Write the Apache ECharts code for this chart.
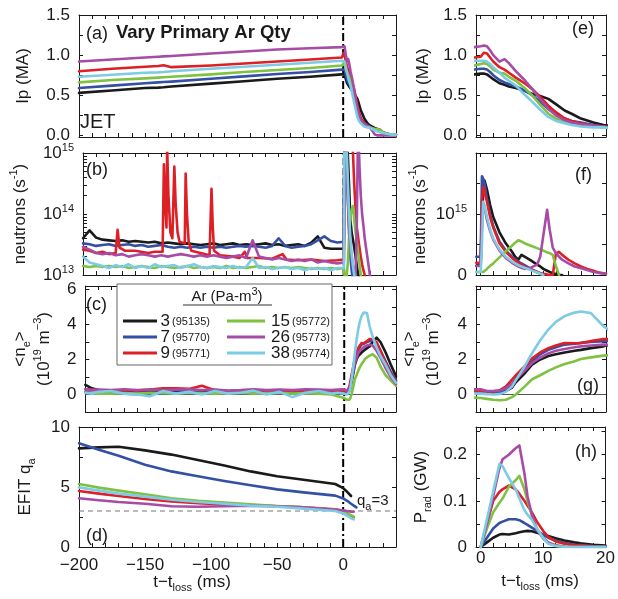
<!DOCTYPE html>
<html><head><meta charset="utf-8">
<script src="https://cdn.jsdelivr.net/npm/echarts@6/dist/echarts.min.js"></script>
<style>html,body{margin:0;padding:0;background:#fff}#c{width:618px;height:599px}</style>
</head><body><div id="c"></div>
<script>
// ---------- DATA ----------
const names = ['3', '7', '9', '15', '26', '38'];
const shots = ['(95135)', '(95770)', '(95771)', '(95772)', '(95773)', '(95774)'];
const colors = ['#1a1a1a', '#3350a5', '#dd1f26', '#7fc241', '#a64ca6', '#7dcbe4'];

// (a),(e) plasma current Ip (MA)
const ipT = [-200,-175,-150,-140,-136,-130,-100,-75,-50,-25,-1,0,0.5,1,1.5,2,3,3.8,4.5,5.6,7,8.2,9.5,10.8,12,13.4,14.5,16,18,19.6,22,24,26,28,30,33,36,40];
const ipBlack = [0.53,0.56,0.59,0.595,0.60,0.61,0.645,0.675,0.705,0.73,0.76,0.77,0.77,0.76,0.73,0.70,0.65,0.63,0.61,0.59,0.555,0.52,0.49,0.455,0.39,0.31,0.27,0.21,0.16,0.13,0.11,0.09,0.08,0.06,0.04,0.02,0.01,0.01];
const ipBlue = [0.59,0.62,0.65,0.66,0.665,0.67,0.705,0.735,0.765,0.79,0.82,0.83,0.83,0.82,0.79,0.75,0.69,0.66,0.64,0.61,0.56,0.50,0.42,0.33,0.27,0.21,0.18,0.16,0.13,0.11,0.09,0.07,0.06,0.05,0.03,0.02,0.01,0.01];
const ipRed = [0.80,0.83,0.855,0.865,0.875,0.85,0.87,0.895,0.92,0.945,0.97,0.98,1.03,1.02,0.97,0.92,0.85,0.82,0.78,0.72,0.65,0.58,0.48,0.37,0.29,0.21,0.18,0.15,0.12,0.11,0.09,0.08,0.075,0.07,0.04,0.02,0.01,0.01];
const ipGreen = [0.66,0.69,0.71,0.72,0.725,0.73,0.76,0.79,0.815,0.84,0.87,0.89,0.90,0.89,0.86,0.82,0.78,0.77,0.73,0.68,0.59,0.50,0.38,0.27,0.21,0.17,0.14,0.12,0.11,0.10,0.09,0.08,0.075,0.07,0.04,0.02,0.01,0.01];
const ipMagenta = [0.92,0.945,0.97,0.98,0.985,0.99,1.02,1.045,1.07,1.085,1.10,1.11,1.12,1.11,1.06,1.00,0.92,0.95,0.90,0.80,0.69,0.58,0.45,0.33,0.25,0.19,0.16,0.14,0.12,0.11,0.06,0.01,0,0,0,0,0,0];
const ipCyan = [0.73,0.755,0.78,0.785,0.79,0.80,0.83,0.855,0.88,0.905,0.93,0.93,0.93,0.92,0.89,0.85,0.78,0.72,0.68,0.62,0.51,0.42,0.32,0.23,0.18,0.15,0.13,0.11,0.10,0.10,0.08,0.06,0.05,0.04,0.03,0.02,0.01,0.01];

// (b) neutrons (units of 1e13 s^-1), log axis
const nbT = [-200,-195,-190,-185,-180,-175,-170,-165,-160,-155,-150,-145,-140,-135,-130,-125,-120,-115,-110,-105,-100,-95,-90,-85,-80,-75,-70,-65,-60,-55,-50,-45,-40,-35,-30,-25,-20,-15,-10,-5,0,
  0.5,1,2,3,4,5,6,7,8,9,10,10.5,11,12,13,14,15,16,17,18,19,20,22,25];
const nbBlack = [4.0,5.4,4.1,3.8,3.7,3.6,3.7,3.5,3.6,3.5,3.4,3.5,3.3,3.4,3.3,3.2,3.3,3.2,3.1,3.2,3.3,3.1,3.2,3.3,3.1,3.2,3.1,3.2,3.3,3.1,3.2,3.0,3.1,3.2,3.0,3.4,4.3,2.8,2.7,2.7,2.7,
  300,300,250,100,30,8,5,3.8,2.8,2.0,1.4,1.2,1.05,0.8,0.6,0.5,0.5,0.5,0.5,0.5,0.5,0.5,0.5,0.5];
const nbBlue = [3.3,3.2,3.0,3.1,3.2,3.0,3.1,3.2,3.0,3.1,2.9,3.0,3.1,2.9,2.8,2.9,2.8,2.9,2.8,2.9,2.8,2.9,2.8,2.9,3.0,2.9,3.0,2.9,2.8,3.0,4.0,3.0,2.8,2.9,3.0,3.2,3.7,4.3,3.6,3.4,3.5,
  300,300,100,20,5,2,1.2,0.8,0.5,0.5,0.5,0.5,0.5,0.5,0.5,0.5,0.5,0.5,0.5,0.5,0.5,0.5,0.5,0.5];
const nbGreen = [1.4,1.35,1.4,1.35,1.4,1.35,1.4,1.3,1.35,1.4,1.35,1.3,1.4,1.35,1.3,1.35,1.4,1.3,1.35,1.3,1.35,1.3,1.4,1.3,1.35,1.3,1.35,1.4,1.3,1.35,1.3,1.35,1.3,1.35,1.3,1.25,1.3,1.25,1.3,1.25,1.3,
  1.0,0.8,0.9,1.5,4,9,12,13.5,8,5,3.5,2.9,2.3,1.5,1.0,0.7,0.5,0.5,0.5,0.5,0.5,0.5,0.5,0.5];
const nbMagenta = [2.9,2.6,2.3,2.2,2.3,2.1,2.2,2.0,2.1,2.2,2.1,2.0,2.1,2.0,2.1,2.2,2.1,2.0,2.1,2.0,2.1,2.0,1.9,2.0,2.1,1.9,3.7,2.0,1.9,1.8,1.9,1.8,1.7,1.8,1.7,1.8,1.6,1.7,1.6,1.55,1.6,
  300,300,80,20,6,3,2,1.4,1.0,0.9,8,60,300,60,20,10,6.5,4,2.8,2,1.4,1.0,0.6,0.5];
const nbCyan = [2.0,1.6,1.5,1.4,1.3,1.45,1.35,1.5,1.3,1.4,1.3,1.5,1.35,1.4,1.45,1.3,1.4,1.5,1.35,1.3,1.4,1.35,1.3,1.4,1.3,1.35,1.9,1.3,1.35,1.25,1.3,1.35,1.25,1.3,1.2,1.3,1.25,1.3,1.2,1.3,1.3,
  300,300,150,40,10,4,2.2,1.4,1.0,0.7,0.5,0.5,0.5,0.5,0.5,0.5,0.5,0.5,0.5,0.5,0.5,0.5,0.5,0.5];
const nbRedT = [-200,-195,-190,-185,-180,-175,-173.5,-172,-168,-160,-150,-145,-139,-138,-137,-136,-135.5,-134.5,-133,-131.5,-130,-129,-127.5,-126,-122,-121.3,-120.3,-119,-117,-110,-103,-101.5,-100.5,-99.5,-95,-85,-80,-76,-74,-65,-55,-47,-44,-35,-25,-15,-5,0,
  0.5,1,2,3,4,5,6,7,8,9,10,11,12,13,14,15,16,17,18,20,25];
const nbRed = [2.6,2.5,2.3,2.4,2.2,2.3,5.5,2.8,2.5,2.5,2.3,2.4,2.4,65,15,6,120,20,5,4,60,15,5,3.5,3.3,46,10,3.5,2.5,2.3,2.1,26,6,2.5,2.1,2.0,1.9,2.4,1.9,1.9,1.85,2.2,1.8,1.75,1.8,1.7,1.75,1.8,
  300,300,300,300,300,300,300,100,30,12,5.9,4,2.8,2.0,1.5,1.2,1.0,0.8,0.7,0.6,0.5];

// (f) neutrons, linear (units of 1e15 s^-1)
const fT = [-0.7,0,0.2,0.4,0.6,1,1.5,2,3,4,5,5.5,6,6.5,7,8,9,9.5,10,10.6,11,11.5,12,12.5,13,14,15,16,17,18,19,20];
const fBlack = [0.15,0.2,0.8,1.4,1.55,1.4,1.15,0.95,0.7,0.52,0.38,0.3,0.25,0.33,0.3,0.24,0.17,0.14,0.1,0.07,0.05,0.03,0.015,0.005,0,null,null,null,null,null,null,null];
const fBlue = [0.3,0.3,1.62,1.58,1.5,1.25,1.0,0.8,0.55,0.4,0.3,0.26,0.22,0.19,0.16,0.1,0.05,0.03,0.0,null,null,null,null,null,null,null,null,null,null,null,null,null];
const fRed = [0.2,0.2,1.2,1.45,1.42,1.2,0.95,0.78,0.52,0.38,0.28,0.24,0.2,0.17,0.14,0.09,0.05,0.03,0.02,0.01,0.0,0.0,0.35,0.38,0.33,0.25,0.19,0.14,0.1,0.07,0.035,0.02];
const fGreen = [0.05,0.05,0.05,0.05,0.06,0.1,0.15,0.19,0.29,0.39,0.48,0.53,0.57,0.55,0.52,0.48,0.44,0.42,0.4,0.37,0.36,0.33,0.15,0.0,null,null,null,null,null,null,null,null];
const fMagenta = [0.15,0.15,0.9,1.18,1.12,0.9,0.72,0.58,0.4,0.28,0.2,0.17,0.14,0.12,0.1,0.12,0.17,0.3,0.65,1.07,0.75,0.45,0.36,0.3,0.25,0.19,0.14,0.11,0.08,0.05,0.035,0.02];
const fCyan = [0.05,0.05,0.5,1.2,1.15,0.95,0.75,0.6,0.42,0.3,0.22,0.19,0.16,0.14,0.12,0.08,0.04,0.02,0.0,null,null,null,null,null,null,null,null,null,null,null,null,null];

// (c),(g) line-averaged density (1e19 m^-3)
const neT = [-200,-195,-190,-180,-170,-160,-150,-140,-130,-120,-110,-100,-90,-80,-70,-60,-50,-40,-30,-20,-10,-5,0,1,2,3,4,5,5.6,7,8.2,9.5,10.8,12,13.4,15,16,17.6,19.6,22,25,28,32,36,40];
const neBlack = [0.55,0.35,0.25,0.22,0.2,0.18,0.15,0.15,0.18,0.15,0.12,0.15,0.18,0.12,0.1,0.15,0.12,0.1,0.15,0.12,0.1,0.12,0.12,
  0.1,0.1,0.12,0.2,0.4,0.7,1.2,1.7,2.0,2.2,2.3,2.4,2.5,2.55,2.65,2.75,3.0,3.25,3.0,2.4,1.7,1.05];
const neBlue = [0.15,0.1,0.05,0.08,0.05,0.02,0.08,0.05,0.1,0.12,0.08,0.1,0.12,0.1,0.08,0.1,0.12,0.08,0.1,0.12,0.1,0.12,0.15,
  0.12,0.12,0.15,0.3,0.6,0.9,1.4,1.9,2.3,2.55,2.7,2.85,2.9,2.95,3.0,3.05,3.1,2.9,2.5,1.9,1.3,0.8];
const neRed = [0.3,0.28,0.25,0.22,0.25,0.22,0.28,0.35,0.35,0.32,0.5,0.25,0.2,0.18,0.2,0.18,0.2,0.22,0.18,0.2,0.22,0.2,0.2,
  0.18,0.18,0.23,0.45,0.85,1.1,1.6,2.07,2.4,2.65,2.8,2.94,2.92,2.94,3.05,3.17,3.15,3.0,2.5,1.8,1.2,0.75];
const neGreen = [0.1,0.08,0.05,0.05,0.08,0.05,0.1,0.08,0.05,0.1,0.08,0.05,0.08,0.1,0.05,0.08,0.1,0.05,0.08,0.05,0.0,-0.1,-0.2,
  -0.25,-0.3,-0.33,-0.3,-0.15,0.0,0.45,0.87,1.1,1.35,1.55,1.74,1.9,2.03,2.12,2.22,2.3,2.1,1.6,1.1,0.8,0.5];
const neMagenta = [0.3,0.25,0.28,0.25,0.3,0.25,0.28,0.25,0.28,0.3,0.25,0.28,0.22,0.25,0.3,0.25,0.28,0.25,0.3,0.28,0.25,0.28,0.3,
  0.2,0.2,0.22,0.35,0.6,0.85,1.35,1.8,2.1,2.35,2.5,2.6,2.7,2.75,2.8,2.85,2.8,2.5,2.1,1.5,1.0,0.6];
const neCyan = [0.1,0.05,0.15,0.2,0.05,0.0,-0.1,0.2,0.05,0.15,0.0,0.2,0.05,0.1,0.22,0.0,0.15,-0.15,0.1,0.2,0.05,0.1,0.05,
  0.02,0.0,0.02,0.15,0.45,0.81,1.6,2.36,3.1,3.71,4.15,4.48,4.68,4.74,4.65,3.9,3.3,2.7,2.2,1.7,1.1,0.67];

// (d) EFIT edge safety factor
const qaT = [-200,-185,-170,-150,-130,-110,-90,-70,-50,-30,-6,0,3,6,8,10];
const qaBlack = [8.22,8.3,8.36,8.05,7.7,7.25,6.8,6.3,5.9,5.6,5.25,4.9,4.6,4.25,null,null];
const qaBlue = [8.64,8.1,7.6,6.85,6.3,5.9,5.5,5.15,4.8,4.55,4.28,4.05,3.85,3.6,3.45,3.3];
const qaRed = [4.67,4.45,4.25,4.0,3.8,3.65,3.55,3.5,3.4,3.3,3.14,3.0,2.8,2.6,2.47,null];
const qaGreen = [5.25,4.95,4.7,4.4,4.05,3.85,3.7,3.55,3.42,3.3,3.1,2.95,2.8,2.65,2.53,null];
const qaMagenta = [4.06,3.9,3.75,3.6,3.4,3.35,3.4,3.45,3.4,3.3,3.1,3.05,3.0,2.95,2.94,null];
const qaCyan = [4.97,4.7,4.45,4.2,3.95,3.75,3.6,3.45,3.36,3.2,3.0,2.8,2.6,2.4,2.3,null];
const qaRef = 3;

// (h) radiated power (GW)
const pradT = [0,1,2,3,3.5,4.5,5.6,6.2,7,7.5,8.2,9,10,10.8,12,13.4,15,16,18,20];
const pradBlack = [0,0.01,0.02,0.027,0.028,0.027,0.03,0.032,0.034,0.035,0.034,0.031,0.027,0.024,0.019,0.014,0.01,0.008,0.005,0.003];
const pradBlue = [0,0.02,0.04,0.052,0.055,0.06,0.06,0.058,0.052,0.048,0.042,0.035,0.027,0.02,0.014,0.009,0.005,0.004,0.002,0.001];
const pradRed = [0,0.05,0.1,0.119,0.125,0.133,0.125,0.115,0.1,0.09,0.075,0.055,0.035,0.022,0.012,0.007,0.004,0.003,0.001,0];
const pradGreen = [0,0.04,0.075,0.096,0.105,0.13,0.145,0.154,0.125,0.1,0.068,0.04,0.018,0.01,0.004,0.001,0,0,0,0];
const pradMagenta = [0,0.05,0.11,0.17,0.19,0.2,0.214,0.22,0.16,0.11,0.07,0.037,0.02,0.01,0.003,0,0,0,0,0];
const pradCyan = [0,0.06,0.12,0.18,0.175,0.15,0.125,0.105,0.08,0.07,0.059,0.04,0.02,0.007,0.002,0,0,0,0,0];

// tick labels
const xLeftLabels = [-200,-150,-100,-50,0];
const xRightLabels = [0,10,20];
const ipLabels = [0,0.5,1,1.5];
const nbLabels = [1e13,1e14,0.99999e15];
const fLabels = [0,1e15];
const neLabelsL = [0,2,4,6];
const neLabelsR = [0,2,4];
const qaLabels = [0,5,10];
const pradLabels = [0,0.1,0.2];

// ---------- CHART ----------
const FONT = '"Liberation Sans", Arial, Helvetica, sans-serif';
const INK = '#1a1a1a';
const steps = (a, b, s) => { const r = []; for (let v = a; v <= b + 1e-9; v += s) r.push(+v.toFixed(6)); return r; };
const pairs = (t, v, k) => t.map((x, i) => [x, v[i]]).filter(p => p[1] !== null && p[1] !== undefined).map(p => [p[0], p[1] * (k || 1)]);

const grids = [
  {left: 79, top: 15, width: 317, height: 122},
  {left: 79, top: 153, width: 317, height: 122},
  {left: 79, top: 286, width: 317, height: 126},
  {left: 79, top: 427, width: 317, height: 120},
  {left: 476, top: 15, width: 130, height: 122},
  {left: 476, top: 153, width: 130, height: 122},
  {left: 476, top: 286, width: 130, height: 126},
  {left: 476, top: 427, width: 130, height: 120}
];

const richBase = {
  sup: {fontSize: 11, verticalAlign: 'top', fontFamily: FONT, color: INK},
  sub: {fontSize: 11, verticalAlign: 'bottom', fontFamily: FONT, color: INK},
  b: {fontSize: 17, fontFamily: FONT, color: INK}
};

function axLine() { return {show: true, onZero: false, lineStyle: {color: INK, width: 1}}; }
function xAx(gi, min, max, ticks, labels, pos, margin) {
  return {
    type: 'value', gridIndex: gi, position: pos, min, max,
    axisLine: axLine(),
    axisTick: {show: true, inside: true, length: 4, customValues: ticks, lineStyle: {color: INK}},
    axisLabel: labels ? {show: true, customValues: labels, fontSize: 17, fontFamily: FONT, color: INK, margin: margin,
      showMinLabel: true, showMaxLabel: true,
      formatter: v => String(v).replace('-', '\u2212')} : {show: false},
    splitLine: {show: false}
  };
}
function yAx(gi, type, min, max, ticks, labels, pos, fmt, name, nameGap) {
  const a = {
    type: type, gridIndex: gi, position: pos, min, max,
    axisLine: axLine(),
    axisTick: {show: true, inside: true, length: 4, customValues: ticks, lineStyle: {color: INK}},
    axisLabel: labels ? {show: true, customValues: labels, fontSize: 17, fontFamily: FONT, color: INK, margin: 9,
      showMinLabel: true, showMaxLabel: true,
      lineHeight: 22, formatter: fmt, rich: richBase} : {show: false},
    splitLine: {show: false}
  };
  if (type === 'log') a.logBase = 10;
  if (name) {
    a.name = name; a.nameLocation = 'middle'; a.nameRotate = 90; a.nameGap = nameGap;
    a.nameTextStyle = {fontSize: 17, fontFamily: FONT, color: INK, lineHeight: 24, rich: richBase};
  }
  return a;
}

const xLTicks = steps(-200, 40, 10);
const xRTicks = steps(0, 20, 2);
const ipTicks = steps(0, 1.5, 0.25);
const nbTicks = [];
[1e13, 1e14].forEach(d => { for (let m = 1; m < 10; m++) nbTicks.push(m * d); });
const neTicks = steps(0, 6, 1);
const qaTicks = steps(0, 10, 2.5);
const pradTicks = steps(0, 0.25, 0.05);

const fmtIp = v => v.toFixed(1);
const fmtLog = v => '{b|10}{sup|' + Math.round(Math.log10(v)) + '}';
const fmtF = v => v === 0 ? '0' : '{b|10}{sup|15}';
const fmtInt = v => String(v);
const fmtPrad = v => v === 0 ? '0' : v.toFixed(1);
const neName = '<n{sub|e}>\n(10{sup|19} m{sup|\u22123})';

const xAxis = [];
const yAxis = [];
const yCfg = [
  ['value', -0.02, 1.5, ipTicks, ipLabels, fmtIp, 'Ip (MA)', 42],
  ['log', 1e13, 1e15, nbTicks, nbLabels, fmtLog, 'neutrons (s{sup|-1})', 43],
  ['value', -1, 6.2, neTicks, neLabelsL, fmtInt, neName, 26],
  ['value', 0, 10, qaTicks, qaLabels, fmtInt, 'EFIT q{sub|a}', 42],
  ['value', -0.02, 1.5, ipTicks, ipLabels, fmtIp, 'Ip (MA)', 41],
  ['value', 0, 2e15, [0, 5e14, 1e15, 1.5e15, 2e15], fLabels, fmtF, 'neutrons (s{sup|-1})', 36],
  ['value', -1, 6.2, neTicks, neLabelsR, fmtInt, neName, 31],
  ['value', 0, 0.26, pradTicks, pradLabels, fmtPrad, 'P{sub|rad} (GW)', 43]
];
for (let gi = 0; gi < 8; gi++) {
  const left = gi < 4;
  const bottomLabels = gi === 3 ? xLeftLabels : (gi === 7 ? xRightLabels : null);
  const mn = left ? -200 : -0.75, mx = left ? 40 : 20, tk = left ? xLTicks : xRTicks;
  xAxis.push(xAx(gi, mn, mx, tk, bottomLabels, 'bottom', gi === 3 ? 10 : 3));
  xAxis.push(xAx(gi, mn, mx, tk, null, 'top'));
  const c = yCfg[gi];
  yAxis.push(yAx(gi, c[0], c[1], c[2], c[3], c[4], 'left', c[5], c[6], c[7]));
  yAxis.push(yAx(gi, c[0], c[1], c[2], c[3], null, 'right'));
}

const series = [];
function refLine(gi, data, style) {
  series.push({type: 'line', xAxisIndex: 2 * gi, yAxisIndex: 2 * gi, data: data, showSymbol: false, silent: true,
    animation: false, lineStyle: style, z: 1});
}
function addSet(gi, tList, vList, k) {
  vList.forEach((v, i) => {
    const t = Array.isArray(tList[0]) ? tList[i] : tList;
    series.push({type: 'line', name: names[i], xAxisIndex: 2 * gi, yAxisIndex: 2 * gi, data: pairs(t, v, k),
      showSymbol: false, silent: true, clip: true, animation: false,
      lineStyle: {color: colors[i], width: 2.6, join: 'round', cap: 'round'}, itemStyle: {color: colors[i]}, z: 3 + i});
  });
}
const dashDot = {color: '#000', width: 2, type: [8, 3, 2, 3]};
// loss-time markers and reference lines
refLine(0, [[0, -0.02], [0, 1.5]], dashDot);
refLine(1, [[0, 1e13], [0, 1e15]], {color: '#000', width: 2.4, type: [7, 3]});
refLine(2, [[0, -1], [0, 6.2]], dashDot);
refLine(3, [[0, 0], [0, 10]], dashDot);
refLine(2, [[-200, 0], [40, 0]], {color: '#555', width: 1});
refLine(6, [[-0.75, 0], [20, 0]], {color: '#555', width: 1});
refLine(3, [[-200, qaRef], [40, qaRef]], {color: '#777', width: 1.2, type: [5, 4]});

const ipSet = [ipBlack, ipBlue, ipRed, ipGreen, ipMagenta, ipCyan];
addSet(0, ipT, ipSet);
addSet(4, ipT, ipSet);
addSet(1, [nbT, nbT, nbRedT, nbT, nbT, nbT], [nbBlack, nbBlue, nbRed, nbGreen, nbMagenta, nbCyan], 1e13);
addSet(5, fT, [fBlack, fBlue, fRed, fGreen, fMagenta, fCyan], 1e15);
const neSet = [neBlack, neBlue, neRed, neGreen, neMagenta, neCyan];
addSet(2, neT, neSet);
addSet(6, neT, neSet);
addSet(3, qaT, [qaBlack, qaBlue, qaRed, qaGreen, qaMagenta, qaCyan]);
addSet(7, pradT, [pradBlack, pradBlue, pradRed, pradGreen, pradMagenta, pradCyan]);

// ---------- annotations ----------
const gRich = {
  sub: {fontSize: 11, verticalAlign: 'bottom', fontFamily: FONT, fill: INK},
  sup: {fontSize: 11, verticalAlign: 'top', fontFamily: FONT, fill: INK}
};
function txt(x, y, text, size, opts) {
  return Object.assign({type: 'text', x: x, y: y, z: 100,
    style: Object.assign({text: text, fontSize: size, fontFamily: FONT, fill: INK, align: 'left', verticalAlign: 'middle',
      lineHeight: 22, rich: gRich}, opts || {})});
}
const graphic = [
  txt(86, 34, '(a)', 18),
  txt(116, 33, 'Vary Primary Ar Qty', 18.5, {fontWeight: 'bold'}),
  txt(80, 122, 'JET', 20),
  txt(86, 170, '(b)', 18),
  txt(86, 305, '(c)', 18),
  txt(86, 536, '(d)', 18),
  txt(572, 29, '(e)', 18),
  txt(575, 175, '(f)', 18),
  txt(577, 386, '(g)', 18),
  txt(575, 452, '(h)', 18),
  txt(357, 501, 'q{sub|a}=3', 15),
  txt(192, 582, 't\u2212t{sub|loss} (ms)', 17, {align: 'center'}),
  txt(540, 581, 't\u2212t{sub|loss} (ms)', 17, {align: 'center'}),
  // legend box
  {type: 'rect', z: 90, shape: {x: 117, y: 284, width: 215, height: 81}, style: {fill: '#fff', stroke: '#666', lineWidth: 1}},
  txt(227, 297, 'Ar (Pa-m{sup|3})', 15, {align: 'center'}),
  {type: 'line', z: 100, shape: {x1: 183, y1: 305, x2: 272, y2: 305}, style: {stroke: '#333', lineWidth: 1}}
];
const legRows = [321, 337, 353];
for (let i = 0; i < 6; i++) {
  const col = i < 3 ? 0 : 1, row = i % 3;
  const lx1 = col ? 227 : 123, lx2 = col ? 265 : 157, nx = col ? 290 : 170;
  const y = legRows[row];
  graphic.push({type: 'line', z: 100, shape: {x1: lx1, y1: y, x2: lx2, y2: y}, style: {stroke: colors[i], lineWidth: 3}});
  graphic.push(txt(nx, y, names[i], 17, {align: 'right'}));
  graphic.push(txt(nx + 2, y + 1, shots[i], 11));
}

const chart = echarts.init(document.getElementById('c'), null, {renderer: 'canvas'});
chart.setOption({
  animation: false,
  backgroundColor: '#fff',
  textStyle: {fontFamily: FONT},
  grid: grids,
  xAxis: xAxis,
  yAxis: yAxis,
  series: series,
  graphic: graphic
});
</script>
</body></html>
